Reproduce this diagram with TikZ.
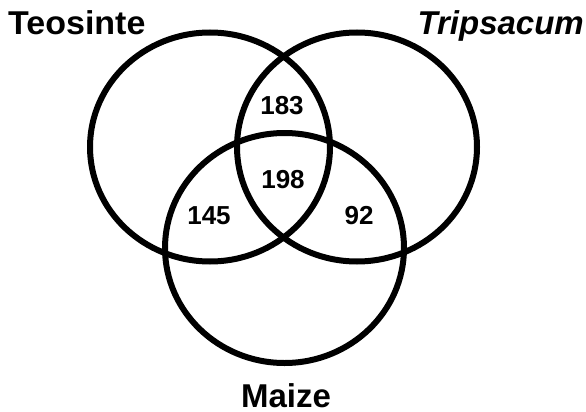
\documentclass[tikz,border=0pt]{standalone}
\usepackage{fontspec}
\setmainfont{Liberation Sans}
\begin{document}
\begin{tikzpicture}[x=1pt,y=-1pt,
  setline/.style={line width=6pt, draw=black},
  lbl/.style={font=\fontsize{33}{40}\selectfont\bfseries, inner sep=0pt},
  num/.style={font=\fontsize{26}{30}\selectfont\bfseries, inner sep=0pt}]
\useasboundingbox (0,0) rectangle (586,412);
% sets
\draw[setline] (210,147) ellipse [x radius=120pt, y radius=114.5pt];
\draw[setline] (357,147) ellipse [x radius=120pt, y radius=114.5pt];
\draw[setline] (284.5,248) ellipse [x radius=119.5pt, y radius=115pt];
% labels
\node[lbl, anchor=base west] (teo) at (8,35) {\scalebox{1.03}[1]{Teosinte}};
\node[lbl, anchor=base east] (tri) at (584,35) {\itshape Tripsacum};
\node[lbl, anchor=base] (mai) at (286,407) {Maize};
% counts
\node[num] (n183) at (282,106) {183};
\node[num] (n198) at (283,180) {198};
\node[num] (n145) at (209,216) {145};
\node[num] (n92) at (359,216) {92};
\end{tikzpicture}
\end{document}
